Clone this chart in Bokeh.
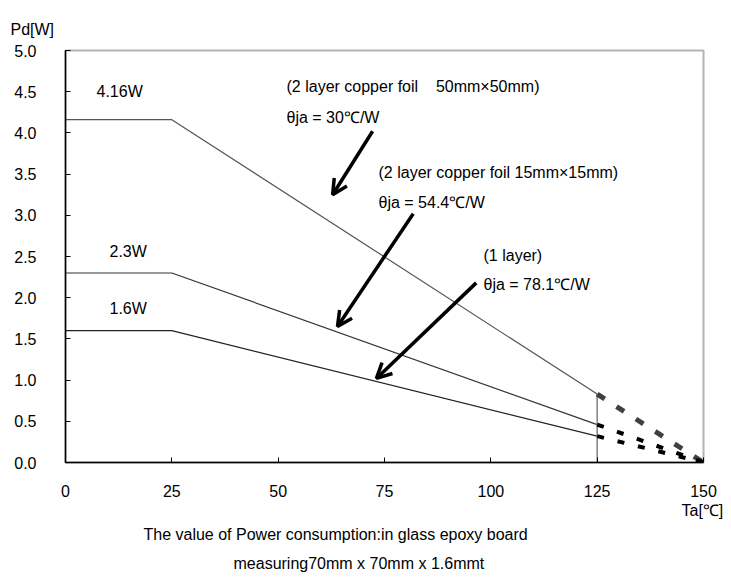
from bokeh.plotting import figure
from bokeh.models import Range1d, Label, Arrow, OpenHead, FixedTicker, Title, CustomJSTickFormatter
from bokeh.embed import file_html
from bokeh.resources import INLINE

# ---- data ----
temps_solid = [0, 25, 125]
temps_dash = [125, 150]
pd_50mm = [4.16, 4.16, 0.83]
pd_15mm = [2.3, 2.3, 0.46]
pd_1layer = [1.6, 1.6, 0.32]
dash_50mm = [0.83, 0.0]
dash_15mm = [0.46, 0.0]
dash_1layer = [0.32, 0.0]
x_ticks = [0, 25, 50, 75, 100, 125, 150]
y_ticks = [0, 0.5, 1.0, 1.5, 2.0, 2.5, 3.0, 3.5, 4.0, 4.5, 5.0]

FONT = "Liberation Sans"
FS = "16px"

p = figure(frame_width=638, frame_height=412, output_backend="svg", toolbar_location=None,
           x_range=Range1d(0, 150), y_range=Range1d(0, 5),
           min_border_left=65, min_border_top=50, min_border_right=20, min_border_bottom=108)
p.grid.visible = False
p.outline_line_color = "#b4b4b4"
p.outline_line_width = 2
p.background_fill_color = "white"
p.border_fill_color = "white"

for ax in (p.xaxis[0], p.yaxis[0]):
    ax.axis_line_color = "black"
    ax.axis_line_width = 1.5
    ax.major_tick_in = 5
    ax.major_tick_out = 0
    ax.minor_tick_in = 0
    ax.minor_tick_out = 0
    ax.major_tick_line_color = "black"
    ax.major_label_text_font = FONT
    ax.major_label_text_font_size = FS
    ax.major_label_text_color = "black"

p.xaxis[0].ticker = FixedTicker(ticks=x_ticks)
p.yaxis[0].ticker = FixedTicker(ticks=y_ticks)
p.xaxis[0].major_label_standoff = 22
p.yaxis[0].major_label_standoff = 29
p.yaxis[0].formatter = CustomJSTickFormatter(code="return tick.toFixed(1);")

# solid derating lines
p.line(temps_solid, pd_50mm, line_color="#555555", line_width=1.2)
p.line(temps_solid, pd_15mm, line_color="#333333", line_width=1.2)
p.line(temps_solid, pd_1layer, line_color="#222222", line_width=1.2)

# vertical line at 125
p.line([temps_dash[0], temps_dash[0]], [0, dash_50mm[0]], line_color="#808080", line_width=1.5)

# dashed extensions
p.line(temps_dash, dash_50mm, line_color="#404040", line_width=5, line_dash="9 14")
p.line(temps_dash, dash_15mm, line_color="black", line_width=4, line_dash="7 14")
p.line(temps_dash, dash_1layer, line_color="black", line_width=4, line_dash="7 14")

# arrows
for xs, ys, xe, ye in [(72.2, 4.02, 62.8, 3.25),
                       (81.75, 3.02, 63.95, 1.65),
                       (96.56, 2.18, 73.1, 1.02)]:
    p.add_layout(Arrow(end=OpenHead(size=15, line_width=3.5, line_color="black"),
                       x_start=xs, y_start=ys, x_end=xe, y_end=ye,
                       line_width=3.5, line_color="black"))

def lab(x, y, t, align="left"):
    p.add_layout(Label(x=x, y=y, text=t, text_font=FONT, text_font_size=FS,
                       text_baseline="middle", text_align=align, text_color="black"))

lab(7.29, 4.50, "4.16W")
lab(10.34, 2.56, "2.3W")
lab(10.34, 1.875, "1.6W")
lab(51.96, 4.563, "(2 layer copper foil\u00a0\u00a0\u00a0\u00a050mm\u00d750mm)")
lab(51.96, 4.187, "\u03b8ja = 30\u2103/W")
lab(73.59, 3.519, "(2 layer copper foil 15mm\u00d715mm)")
lab(73.59, 3.155, "\u03b8ja = 54.4\u2103/W")
lab(98.28, 2.512, "(1 layer)")
lab(98.28, 2.160, "\u03b8ja = 78.1\u2103/W")

def title(text, loc, offset, standoff, lh=1.2, fs=FS):
    p.add_layout(Title(text=text, align="left", offset=offset, standoff=standoff,
                       text_font=FONT, text_font_size=fs, text_font_style="normal",
                       text_line_height=lh, text_color="black"), loc)

# spacer nearest the frame, then the axis caption above it
title("\u00a0", "above", 0, 0, 1.0, "10px")
title("Pd[W]", "above", -55, 0, 1.0)
title("Ta[\u2103]", "below", 616, 0, 1.0)
title("The value of Power consumption:in glass epoxy board", "below", 78, 10, 1.0)
title("measuring70mm x 70mm x 1.6mmt", "below", 168, 10, 1.0)

open("out.html", "w").write(file_html(p, INLINE))
